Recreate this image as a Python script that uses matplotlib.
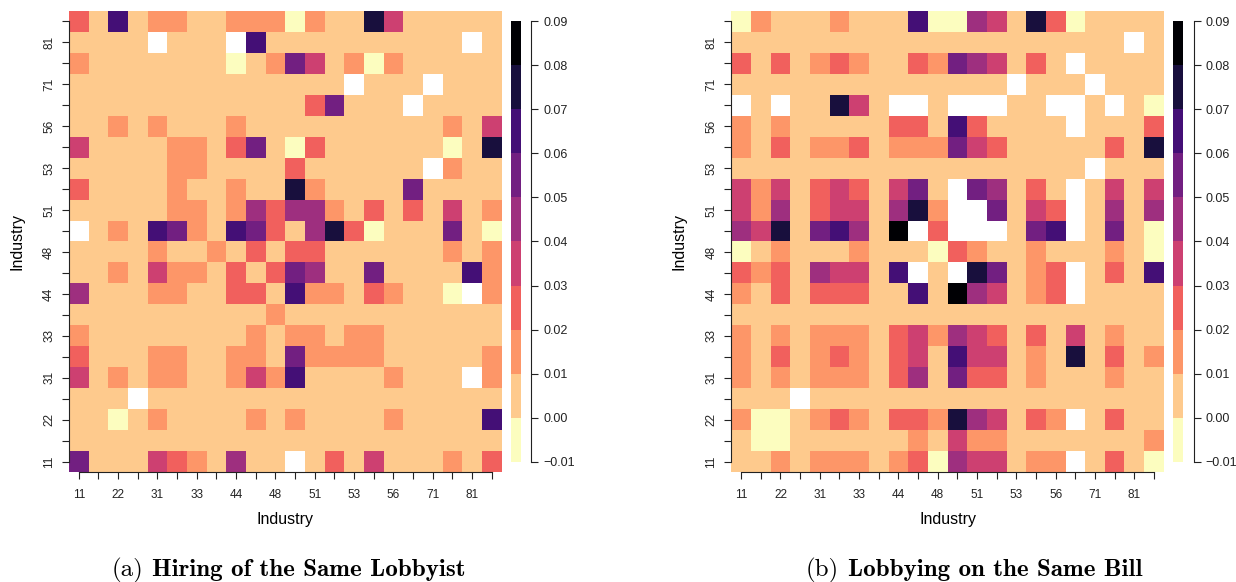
import numpy as np
import matplotlib
matplotlib.use("Agg")
import matplotlib.pyplot as plt
from matplotlib.colors import ListedColormap, BoundaryNorm

plt.rcParams["font.family"] = ["Liberation Sans", "DejaVu Sans"]

NA = np.nan

# 2-digit NAICS codes on both axes (only every other one is labelled in the figure)
INDUSTRIES = ["11", "21", "22", "23", "31", "32", "33", "42", "44", "45", "48",
              "49", "51", "52", "53", "54", "56", "61", "71", "72", "81", "92"]

# colour bins of the legend
LEVELS = [-0.01, 0.00, 0.01, 0.02, 0.03, 0.04, 0.05, 0.06, 0.07, 0.08, 0.09]

# values, in percentage points, row 0 = industry 11 (bottom)
SAME_LOBBYIST = [
    [5.5, 0.5, 0.5, 0.5, 3.5, 2.5, 1.5, 0.5, 4.5, 0.5, 0.5, NA, 0.5, 2.5, 0.5, 3.5, 0.5, 0.5, 0.5, 1.5, 0.5, 2.5],
    [0.5, 0.5, 0.5, 0.5, 0.5, 0.5, 0.5, 0.5, 0.5, 0.5, 0.5, 0.5, 0.5, 0.5, 0.5, 0.5, 0.5, 0.5, 0.5, 0.5, 0.5, 0.5],
    [0.5, 0.5, -0.5, 0.5, 1.5, 0.5, 0.5, 0.5, 0.5, 1.5, 0.5, 1.5, 0.5, 0.5, 0.5, 0.5, 1.5, 0.5, 0.5, 0.5, 0.5, 6.5],
    [0.5, 0.5, 0.5, NA, 0.5, 0.5, 0.5, 0.5, 0.5, 0.5, 0.5, 0.5, 0.5, 0.5, 0.5, 0.5, 0.5, 0.5, 0.5, 0.5, 0.5, 0.5],
    [3.5, 0.5, 1.5, 0.5, 1.5, 1.5, 0.5, 0.5, 1.5, 3.5, 1.5, 6.5, 0.5, 0.5, 0.5, 0.5, 1.5, 0.5, 0.5, 0.5, NA, 1.5],
    [2.5, 0.5, 0.5, 0.5, 1.5, 1.5, 0.5, 0.5, 1.5, 1.5, 0.5, 5.5, 1.5, 1.5, 1.5, 1.5, 0.5, 0.5, 0.5, 0.5, 0.5, 1.5],
    [1.5, 0.5, 0.5, 0.5, 0.5, 0.5, 0.5, 0.5, 0.5, 1.5, 0.5, 1.5, 1.5, 0.5, 1.5, 1.5, 0.5, 0.5, 0.5, 0.5, 0.5, 0.5],
    [0.5, 0.5, 0.5, 0.5, 0.5, 0.5, 0.5, 0.5, 0.5, 0.5, 1.5, 0.5, 0.5, 0.5, 0.5, 0.5, 0.5, 0.5, 0.5, 0.5, 0.5, 0.5],
    [4.5, 0.5, 0.5, 0.5, 1.5, 1.5, 0.5, 0.5, 2.5, 2.5, 0.5, 6.5, 1.5, 1.5, 0.5, 2.5, 1.5, 0.5, 0.5, -0.5, NA, 1.5],
    [0.5, 0.5, 1.5, 0.5, 3.5, 1.5, 1.5, 0.5, 2.5, 0.5, 2.5, 5.5, 4.5, 0.5, 0.5, 5.5, 0.5, 0.5, 0.5, 0.5, 6.5, 1.5],
    [0.5, 0.5, 0.5, 0.5, 1.5, 0.5, 0.5, 1.5, 0.5, 2.5, 0.5, 2.5, 2.5, 0.5, 0.5, 0.5, 0.5, 0.5, 0.5, 1.5, 0.5, 1.5],
    [NA, 0.5, 1.5, 0.5, 6.5, 5.5, 1.5, 0.5, 6.5, 5.5, 2.5, 0.5, 4.5, 7.5, 2.5, -0.5, 0.5, 0.5, 0.5, 5.5, 0.5, -0.5],
    [0.5, 0.5, 0.5, 0.5, 0.5, 1.5, 1.5, 0.5, 1.5, 4.5, 2.5, 4.5, 4.5, 1.5, 0.5, 2.5, 0.5, 2.5, 0.5, 3.5, 0.5, 1.5],
    [2.5, 0.5, 0.5, 0.5, 0.5, 1.5, 0.5, 0.5, 1.5, 0.5, 0.5, 7.5, 1.5, 0.5, 0.5, 0.5, 0.5, 5.5, 0.5, 0.5, 0.5, 0.5],
    [0.5, 0.5, 0.5, 0.5, 0.5, 1.5, 1.5, 0.5, 0.5, 0.5, 0.5, 2.5, 0.5, 0.5, 0.5, 0.5, 0.5, 0.5, NA, 1.5, 0.5, 0.5],
    [3.5, 0.5, 0.5, 0.5, 0.5, 1.5, 1.5, 0.5, 2.5, 5.5, 0.5, -0.5, 2.5, 0.5, 0.5, 0.5, 0.5, 0.5, 0.5, -0.5, 0.5, 7.5],
    [0.5, 0.5, 1.5, 0.5, 1.5, 0.5, 0.5, 0.5, 1.5, 0.5, 0.5, 0.5, 0.5, 0.5, 0.5, 0.5, 0.5, 0.5, 0.5, 1.5, 0.5, 3.5],
    [0.5, 0.5, 0.5, 0.5, 0.5, 0.5, 0.5, 0.5, 0.5, 0.5, 0.5, 0.5, 2.5, 5.5, 0.5, 0.5, 0.5, NA, 0.5, 0.5, 0.5, 0.5],
    [0.5, 0.5, 0.5, 0.5, 0.5, 0.5, 0.5, 0.5, 0.5, 0.5, 0.5, 0.5, 0.5, 0.5, NA, 0.5, 0.5, 0.5, NA, 0.5, 0.5, 0.5],
    [1.5, 0.5, 0.5, 0.5, 0.5, 0.5, 0.5, 0.5, -0.5, 0.5, 1.5, 5.5, 3.5, 0.5, 1.5, -0.5, 1.5, 0.5, 0.5, 0.5, 0.5, 0.5],
    [0.5, 0.5, 0.5, 0.5, NA, 0.5, 0.5, 0.5, NA, 6.5, 0.5, 0.5, 0.5, 0.5, 0.5, 0.5, 0.5, 0.5, 0.5, 0.5, NA, 0.5],
    [2.5, 0.5, 6.5, 0.5, 1.5, 1.5, 0.5, 0.5, 1.5, 1.5, 1.5, -0.5, 1.5, 0.5, 0.5, 7.5, 3.5, 0.5, 0.5, 0.5, 0.5, 0.5],
]

SAME_BILL = [
    [0.5, 0.5, 1.5, 0.5, 1.5, 1.5, 1.5, 0.5, 1.5, 2.5, -0.5, 4.5, 3.5, 3.5, 0.5, 1.5, 1.5, NA, 0.5, 2.5, 0.5, -0.5],
    [0.5, -0.5, -0.5, 0.5, 0.5, 0.5, 0.5, 0.5, 0.5, 1.5, 0.5, 3.5, 1.5, 1.5, 0.5, 0.5, 0.5, 0.5, 0.5, 0.5, 0.5, 1.5],
    [1.5, -0.5, -0.5, 0.5, 1.5, 2.5, 1.5, 0.5, 2.5, 2.5, 1.5, 7.5, 4.5, 3.5, 0.5, 2.5, 1.5, NA, 0.5, 2.5, 0.5, 0.5],
    [0.5, 0.5, 0.5, NA, 0.5, 0.5, 0.5, 0.5, 0.5, 0.5, 0.5, 0.5, 0.5, 0.5, 0.5, 0.5, 0.5, 0.5, 0.5, 0.5, 0.5, 0.5],
    [1.5, 0.5, 1.5, 0.5, 1.5, 1.5, 1.5, 0.5, 2.5, 4.5, 0.5, 5.5, 2.5, 2.5, 0.5, 1.5, 0.5, 0.5, 0.5, 1.5, 0.5, 0.5],
    [1.5, 0.5, 2.5, 0.5, 1.5, 2.5, 1.5, 0.5, 2.5, 3.5, 0.5, 6.5, 3.5, 3.5, 0.5, 1.5, 0.5, 7.5, 0.5, 2.5, 0.5, 1.5],
    [1.5, 0.5, 1.5, 0.5, 1.5, 1.5, 1.5, 0.5, 2.5, 3.5, 1.5, 4.5, 3.5, 2.5, 0.5, 2.5, 0.5, 3.5, 0.5, 1.5, 0.5, 0.5],
    [0.5, 0.5, 0.5, 0.5, 0.5, 0.5, 0.5, 0.5, 0.5, 0.5, 0.5, 0.5, 0.5, 0.5, 0.5, 0.5, 0.5, 0.5, 0.5, 0.5, 0.5, 0.5],
    [1.5, 0.5, 2.5, 0.5, 2.5, 2.5, 2.5, 0.5, 0.5, 6.5, 0.5, 8.5, 4.5, 3.5, 0.5, 1.5, 2.5, NA, 0.5, 0.5, 0.5, 0.5],
    [2.5, 1.5, 2.5, 0.5, 4.5, 3.5, 3.5, 0.5, 6.5, NA, 0.5, NA, 7.5, 5.5, 0.5, 1.5, 2.5, NA, 0.5, 2.5, 0.5, 6.5],
    [-0.5, 0.5, 1.5, 0.5, 0.5, 0.5, 1.5, 0.5, 0.5, 0.5, -0.5, 2.5, 1.5, 0.5, 0.5, 1.5, 0.5, 0.5, 0.5, 1.5, 0.5, -0.5],
    [4.5, 3.5, 7.5, 0.5, 5.5, 6.5, 4.5, 0.5, 8.5, NA, 2.5, NA, NA, NA, 0.5, 5.5, 6.5, NA, 0.5, 5.5, 0.5, -0.5],
    [3.5, 1.5, 4.5, 0.5, 2.5, 3.5, 3.5, 0.5, 4.5, 7.5, 1.5, NA, NA, 5.5, 0.5, 3.5, 2.5, NA, 0.5, 4.5, 0.5, 4.5],
    [3.5, 1.5, 3.5, 0.5, 2.5, 3.5, 2.5, 0.5, 3.5, 5.5, 0.5, NA, 5.5, 4.5, 0.5, 2.5, 0.5, NA, 0.5, 3.5, 0.5, 3.5],
    [0.5, 0.5, 0.5, 0.5, 0.5, 0.5, 0.5, 0.5, 0.5, 0.5, 0.5, 0.5, 0.5, 0.5, 0.5, 0.5, 0.5, 0.5, NA, 0.5, 0.5, 0.5],
    [1.5, 0.5, 2.5, 0.5, 1.5, 1.5, 2.5, 0.5, 1.5, 1.5, 1.5, 5.5, 3.5, 2.5, 0.5, 0.5, 0.5, 0.5, 0.5, 2.5, 0.5, 7.5],
    [1.5, 0.5, 1.5, 0.5, 0.5, 0.5, 0.5, 0.5, 2.5, 2.5, 0.5, 6.5, 2.5, 0.5, 0.5, 0.5, 0.5, NA, 0.5, 0.5, 0.5, 2.5],
    [NA, 0.5, NA, 0.5, 0.5, 7.5, 3.5, 0.5, NA, NA, 0.5, NA, NA, NA, 0.5, 0.5, NA, NA, 0.5, NA, 0.5, -0.5],
    [0.5, 0.5, 0.5, 0.5, 0.5, 0.5, 0.5, 0.5, 0.5, 0.5, 0.5, 0.5, 0.5, 0.5, NA, 0.5, 0.5, 0.5, NA, 0.5, 0.5, 0.5],
    [2.5, 0.5, 2.5, 0.5, 1.5, 2.5, 1.5, 0.5, 0.5, 2.5, 1.5, 5.5, 4.5, 3.5, 0.5, 2.5, 0.5, NA, 0.5, 0.5, 0.5, 0.5],
    [0.5, 0.5, 0.5, 0.5, 0.5, 0.5, 0.5, 0.5, 0.5, 0.5, 0.5, 0.5, 0.5, 0.5, 0.5, 0.5, 0.5, 0.5, 0.5, 0.5, NA, 0.5],
    [-0.5, 1.5, 0.5, 0.5, 0.5, 1.5, 0.5, 0.5, 0.5, 6.5, -0.5, -0.5, 4.5, 3.5, 0.5, 7.5, 2.5, -0.5, 0.5, 0.5, 0.5, 0.5],
]

CAPTIONS = [("(a)", "Hiring of the Same Lobbyist"), ("(b)", "Lobbying on the Same Bill")]

W_PX, H_PX = 1236, 582
INK = "#222222"

# reversed 10-step magma, light yellow for the lowest bin
CMAP = ListedColormap(plt.cm.magma(np.linspace(0, 1, 10))[::-1])
CMAP.set_bad("white")
NORM = BoundaryNorm(LEVELS, CMAP.N)


def FIG_BOX(LEFT, TOP, RIGHT, BOTTOM):
    """Pixel box -> figure fraction rect."""
    return [LEFT / W_PX, 1 - BOTTOM / H_PX, (RIGHT - LEFT) / W_PX, (BOTTOM - TOP) / H_PX]


def DRAW_HEATMAP(FIG, VALUES, LEFT):
    """One industry x industry panel with its discrete legend bar."""
    AX = FIG.add_axes(FIG_BOX(LEFT, 11, LEFT + 432.5, 472))
    GRID = np.ma.masked_invalid(np.array(VALUES, dtype=float) / 100.0)
    EDGES = np.arange(len(INDUSTRIES) + 1) - 0.5
    AX.pcolormesh(EDGES, EDGES, GRID, cmap=CMAP, norm=NORM)
    AX.set_xlim(EDGES[0], EDGES[-1])
    AX.set_ylim(EDGES[0], EDGES[-1])

    TICK_LABELS = [LABEL if POS % 2 == 0 else "" for POS, LABEL in enumerate(INDUSTRIES)]
    AX.set_xticks(range(len(INDUSTRIES)))
    AX.set_xticklabels(TICK_LABELS)
    AX.set_yticks(range(len(INDUSTRIES)))
    AX.set_yticklabels(TICK_LABELS, rotation=90, va="center")
    AX.tick_params(axis="both", length=5, width=0.8, color=INK, labelcolor=INK, labelsize=8.5)
    AX.tick_params(axis="x", pad=7)
    AX.tick_params(axis="y", pad=5)
    for SIDE in ["top", "right"]:
        AX.spines[SIDE].set_visible(False)
    for SIDE in ["left", "bottom"]:
        AX.spines[SIDE].set_bounds(0, len(INDUSTRIES) - 1)
        AX.spines[SIDE].set_linewidth(0.8)
        AX.spines[SIDE].set_color(INK)

    AX.set_xlabel("Industry", fontsize=11.5, color="black")
    AX.set_ylabel("Industry", fontsize=11.5, color="black")
    AX.xaxis.set_label_coords(0.5, -0.087)
    AX.yaxis.set_label_coords(-0.104, 0.5)

    # legend bar
    CAX = FIG.add_axes(FIG_BOX(LEFT + 442, 21, LEFT + 452, 462))
    MIDS = (np.array(LEVELS[:-1]) + np.array(LEVELS[1:])) / 2
    CAX.pcolormesh([0, 1], LEVELS, MIDS[:, None], cmap=CMAP, norm=NORM)
    CAX.set_ylim(LEVELS[0], LEVELS[-1])
    CAX.set_xlim(0, 1)
    CAX.set_xticks([])
    for SIDE in ["top", "left", "bottom"]:
        CAX.spines[SIDE].set_visible(False)
    CAX.spines["right"].set_position(("outward", 7.5))
    CAX.spines["right"].set_bounds(LEVELS[0], LEVELS[-1])
    CAX.spines["right"].set_linewidth(0.8)
    CAX.spines["right"].set_color(INK)
    CAX.yaxis.tick_right()
    CAX.set_yticks(LEVELS)
    CAX.set_yticklabels([f"{V:.2f}".replace("-", "\u2212") for V in LEVELS])
    CAX.tick_params(axis="y", length=5, width=0.8, color=INK, labelcolor=INK, labelsize=9, pad=3.5)
    return AX


def MAIN():
    FIG = plt.figure(figsize=(W_PX / 100, H_PX / 100), dpi=100)
    for (TAG, TITLE), VALUES, LEFT, SPLIT in zip(CAPTIONS, [SAME_LOBBYIST, SAME_BILL], [69, 731.3], [143, 839]):
        DRAW_HEATMAP(FIG, VALUES, LEFT)
        FIG.text(SPLIT / W_PX, 1 - 576 / H_PX, TAG, ha="right", va="baseline",
                 fontsize=18, family="cmr10")
        FIG.text((SPLIT + 9) / W_PX, 1 - 576 / H_PX, TITLE, ha="left", va="baseline",
                 fontsize=18, family="cmb10")
    FIG.savefig("out.png", dpi=100)
    plt.close(FIG)


if __name__ == "__main__":
    MAIN()
